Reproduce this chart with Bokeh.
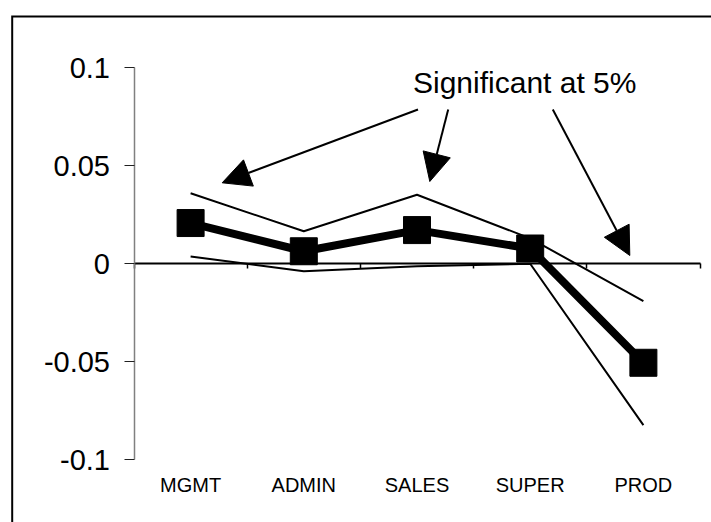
from bokeh.plotting import figure
from bokeh.models import (LinearAxis, FixedTicker, Range1d, Arrow, NormalHead,
                          Label, ColumnDataSource)
from bokeh.embed import file_html
from bokeh.resources import INLINE

# ---- data ----
categories = ["MGMT", "ADMIN", "SALES", "SUPER", "PROD"]
estimate = [0.0208, 0.0064, 0.0172, 0.0078, -0.0505]
upper_bound = [0.0360, 0.0166, 0.0352, 0.0130, -0.0191]
lower_bound = [0.0037, -0.0038, -0.0012, 0.0000, -0.0823]
y_ticks = [-0.1, -0.05, 0, 0.05, 0.1]
y_tick_labels = ["-0.1", "-0.05", "0", "0.05", "0.1"]
annotation_text = "Significant at 5%"

# ---- geometry (pixels on the canvas) ----
W, H = 711, 522
PX_X = 113.2          # pixels per category slot
X0 = 133.5            # canvas x of the value-axis
PX_Y = 1960.0         # pixels per unit of y
Y0 = 263.3            # canvas y of zero

x_range = Range1d(-X0 / PX_X, (W - X0) / PX_X)
y_range = Range1d(-(H - Y0) / PX_Y, Y0 / PX_Y)

def dx(px):   # canvas x -> data x
    return (px - X0) / PX_X

def dy(py):   # canvas y -> data y
    return (Y0 - py) / PX_Y

p = figure(width=W, height=H, x_range=x_range, y_range=y_range,
           x_axis_type=None, y_axis_type=None, toolbar_location=None,
           output_backend="svg", min_border=0, outline_line_color=None,
           background_fill_color="white", border_fill_color="white")

FONT = "Liberation Sans"

# chart border (top and left edges; right/bottom lie outside the view)
xb, yb = dx(11.7), dy(16.0)
p.line([xb, xb, x_range.end + 1], [y_range.start - 1, yb, yb],
       line_color="black", line_width=2, line_join="miter")

# value axis
yaxis = LinearAxis(fixed_location=0, bounds=(-0.1, 0.1),
                   ticker=FixedTicker(ticks=y_ticks, minor_ticks=[]),
                   major_label_overrides=dict(zip(y_ticks, y_tick_labels)),
                   axis_line_color="#808080", axis_line_width=1.5,
                   major_tick_line_color="#202020", major_tick_line_width=1,
                   major_tick_in=0, major_tick_out=10, minor_tick_line_color=None,
                   major_label_standoff=14,
                   major_label_text_font=FONT, major_label_text_font_size="29px",
                   major_label_text_color="black")
p.add_layout(yaxis, "left")

# zero line with category separators (no labels)
slots = list(range(len(categories) + 1))
zaxis = LinearAxis(fixed_location=0, bounds=(0, len(categories)),
                   ticker=FixedTicker(ticks=slots, minor_ticks=[]),
                   axis_line_color="black", axis_line_width=2,
                   major_tick_line_color="black", major_tick_line_width=1.5,
                   major_tick_in=0, major_tick_out=5, minor_tick_line_color=None,
                   major_label_text_color=None)
p.add_layout(zaxis, "below")

# category labels at the bottom
xs = [i + 0.5 for i in range(len(categories))]
caxis = LinearAxis(fixed_location=dy(473),
                   ticker=FixedTicker(ticks=xs, minor_ticks=[]),
                   major_label_overrides=dict(zip(xs, categories)),
                   axis_line_color=None, major_tick_line_color=None,
                   minor_tick_line_color=None, major_tick_in=0, major_tick_out=0,
                   major_label_standoff=0,
                   major_label_text_font=FONT, major_label_text_font_size="20px",
                   major_label_text_color="black")
p.add_layout(caxis, "below")

src = ColumnDataSource(dict(x=xs, est=estimate, up=upper_bound, lo=lower_bound))
p.line("x", "up", source=src, line_color="black", line_width=2)
p.line("x", "lo", source=src, line_color="black", line_width=2)
p.line("x", "est", source=src, line_color="black", line_width=8)
p.scatter("x", "est", source=src, marker="square", size=27,
          fill_color="black", line_color="black")

# annotation text and arrows
p.add_layout(Label(x=dx(412.5), y=dy(81.7), text=annotation_text,
                   text_font=FONT, text_font_size="30px",
                   text_align="left", text_baseline="alphabetic",
                   text_color="black"))

arrow_px = [((417.5, 109.0), (221.7, 182.3)),
            ((447.7, 109.0), (429.3, 181.0)),
            ((552.3, 109.0), (629.3, 255.0))]
for (sx, sy), (ex, ey) in arrow_px:
    p.add_layout(Arrow(end=NormalHead(size=28, fill_color="black",
                                      line_color="black", line_width=1),
                       x_start=dx(sx), y_start=dy(sy), x_end=dx(ex), y_end=dy(ey),
                       line_color="black", line_width=2))

open("out.html", "w").write(file_html(p, INLINE))
